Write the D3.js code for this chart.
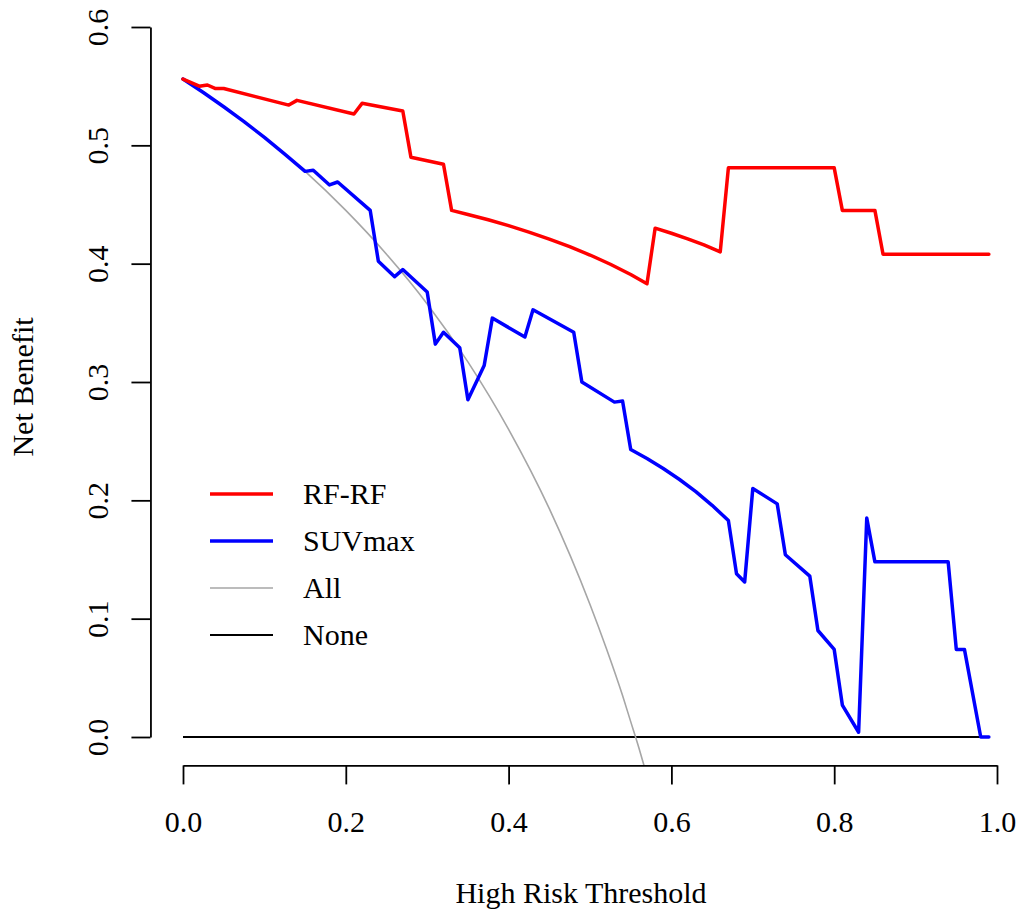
<!DOCTYPE html>
<html>
<head>
<meta charset="utf-8">
<script src="https://cdn.jsdelivr.net/npm/d3@7"></script>
<style>
  body { margin: 0; background: #fff; }
  svg text { font-family: "Liberation Serif", "Times New Roman", serif; fill: #000; }
</style>
</head>
<body>
<svg id="chart" width="1017" height="913"></svg>
<script>
// thresholds and net benefit
const rfX = [0, 0.02, 0.03, 0.04, 0.05, 0.13, 0.14, 0.21, 0.22, 0.27, 0.28, 0.32, 0.33, 0.35, 0.375, 0.40, 0.425, 0.45, 0.475, 0.50, 0.525, 0.55, 0.57, 0.58, 0.60, 0.62, 0.64, 0.66, 0.67, 0.80, 0.81, 0.85, 0.86, 0.99];
const rfY = [0.556, 0.550, 0.551, 0.548, 0.548, 0.534, 0.538, 0.5265, 0.5355, 0.529, 0.490, 0.484, 0.445, 0.4416, 0.4371, 0.4321, 0.4267, 0.4208, 0.4144, 0.4073, 0.3995, 0.3908, 0.383, 0.430, 0.4257, 0.421, 0.4158, 0.410, 0.481, 0.481, 0.445, 0.445, 0.408, 0.408];

const suvX = [0, 0.025, 0.05, 0.075, 0.10, 0.125, 0.15, 0.16, 0.18, 0.19, 0.23, 0.24, 0.26, 0.27, 0.30, 0.31, 0.32, 0.34, 0.35, 0.37, 0.38, 0.42, 0.43, 0.48, 0.49, 0.53, 0.54, 0.55, 0.57, 0.59, 0.61, 0.63, 0.65, 0.67, 0.68, 0.69, 0.70, 0.73, 0.74, 0.77, 0.78, 0.80, 0.81, 0.83, 0.84, 0.85, 0.94, 0.95, 0.96, 0.98, 0.99];
const suvY = [0.556, 0.5446, 0.5326, 0.520, 0.5067, 0.4926, 0.478, 0.479, 0.4665, 0.469, 0.445, 0.402, 0.389, 0.395, 0.376, 0.332, 0.342, 0.329, 0.285, 0.314, 0.354, 0.338, 0.361, 0.342, 0.300, 0.283, 0.284, 0.243, 0.2353, 0.2269, 0.2176, 0.2073, 0.1958, 0.183, 0.138, 0.131, 0.210, 0.197, 0.154, 0.136, 0.090, 0.074, 0.027, 0.004, 0.185, 0.148, 0.148, 0.074, 0.074, 0, 0];

const allX = [0, 0.05, 0.10, 0.15, 0.20, 0.25, 0.30, 0.35, 0.40, 0.45, 0.50, 0.52, 0.54, 0.55, 0.56, 0.57];
const allY = [0.556, 0.533, 0.507, 0.478, 0.445, 0.408, 0.366, 0.317, 0.260, 0.193, 0.112, 0.075, 0.035, 0.013, -0.009, -0.033];

const noneX = [0, 0.99];
const noneY = [0, 0];

const xTicks = [0, 0.2, 0.4, 0.6, 0.8, 1.0];
const yTicks = [0, 0.1, 0.2, 0.3, 0.4, 0.5, 0.6];

const legendNames = ["RF-RF", "SUVmax", "All", "None"];
const legendColors = ["#ff0000", "#0000ff", "#a6a6a6", "#000000"];
const legendWidths = [3.5, 3.5, 1.6, 1.8];

const svg = d3.select("#chart");

const x = d3.scaleLinear().domain([0, 1]).range([183, 997]);
const y = d3.scaleLinear().domain([0, 0.6]).range([737, 27]);

// plot region (R style 4% padding)
const left = x(-0.04), bottom = y(-0.024);
svg.append("clipPath").attr("id", "plotclip")
  .append("rect")
  .attr("x", left).attr("y", y(0.624))
  .attr("width", x(1.04) - left).attr("height", bottom - y(0.624));

const plot = svg.append("g").attr("clip-path", "url(#plotclip)");

const line = d3.line().x(d => x(d[0])).y(d => y(d[1]));
const smooth = d3.line().x(d => x(d[0])).y(d => y(d[1])).curve(d3.curveMonotoneX);

function zip(a, b) { return a.map((v, i) => [v, b[i]]); }

plot.append("path").datum(zip(noneX, noneY))
  .attr("d", line).attr("fill", "none")
  .attr("stroke", legendColors[3]).attr("stroke-width", legendWidths[3]);

plot.append("path").datum(zip(allX, allY))
  .attr("d", smooth).attr("fill", "none")
  .attr("stroke", legendColors[2]).attr("stroke-width", legendWidths[2]);

plot.append("path").datum(zip(suvX, suvY))
  .attr("d", line).attr("fill", "none")
  .attr("stroke", legendColors[1]).attr("stroke-width", legendWidths[1])
  .attr("stroke-linejoin", "round").attr("stroke-linecap", "round");

plot.append("path").datum(zip(rfX, rfY))
  .attr("d", line).attr("fill", "none")
  .attr("stroke", legendColors[0]).attr("stroke-width", legendWidths[0])
  .attr("stroke-linejoin", "round").attr("stroke-linecap", "round");

// axes
const xAxis = svg.append("g")
  .attr("transform", `translate(0,${bottom})`)
  .call(d3.axisBottom(x).tickValues(xTicks).tickFormat(d3.format(".1f")).tickSize(19).tickSizeOuter(0));

const yAxis = svg.append("g")
  .attr("transform", `translate(${left},0)`)
  .call(d3.axisLeft(y).tickValues(yTicks).tickFormat(d3.format(".1f")).tickSize(19).tickSizeOuter(0));

[xAxis, yAxis].forEach(g => {
  g.selectAll("path, line").attr("stroke", "#000").attr("stroke-width", 1.8);
  g.selectAll("text").attr("font-family", "Liberation Serif").attr("font-size", 30).attr("fill", "#000");
});

xAxis.selectAll(".tick text").attr("dy", null).attr("y", 832 - bottom);

yAxis.selectAll(".tick text")
  .attr("x", null).attr("dy", null)
  .attr("text-anchor", "middle")
  .attr("transform", `translate(${108 - left},0) rotate(-90)`);

// axis titles
svg.append("text")
  .attr("x", 581).attr("y", 903)
  .attr("text-anchor", "middle").attr("font-size", 30)
  .text("High Risk Threshold");

svg.append("text")
  .attr("transform", "translate(33,387) rotate(-90)")
  .attr("text-anchor", "middle").attr("font-size", 30)
  .text("Net Benefit");

// legend
const legend = svg.append("g");
legendNames.forEach((name, i) => {
  const ly = 494 + i * 47;
  legend.append("line")
    .attr("x1", 210).attr("x2", 273).attr("y1", ly).attr("y2", ly)
    .attr("stroke", legendColors[i]).attr("stroke-width", legendWidths[i]);
  legend.append("text")
    .attr("x", 303).attr("y", ly).attr("dy", "0.34em")
    .attr("font-size", 30)
    .text(name);
});
</script>
</body>
</html>
